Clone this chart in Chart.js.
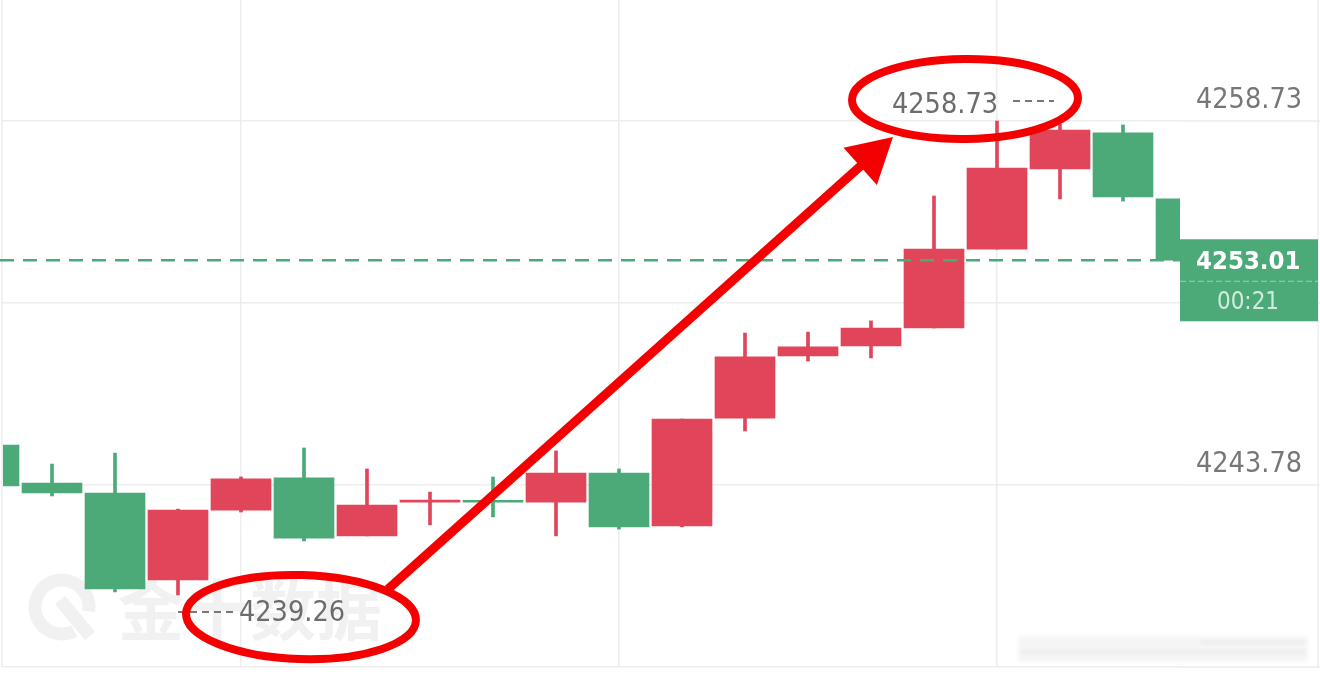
<!DOCTYPE html>
<html>
<head>
<meta charset="utf-8">
<script src="https://cdn.jsdelivr.net/npm/chart.js@4.4.1/dist/chart.umd.min.js"></script>
<style>
  html, body { margin: 0; padding: 0; background: #fff; overflow: hidden; }
  #wrap { position: relative; width: 1320px; height: 681px; }
</style>
</head>
<body>
<div id="wrap"><canvas id="kline"></canvas></div>
<script>
// candle slots (index 0 is cut off at the left edge, 19 is the live candle)
const slots  = [0, 1, 2, 3, 4, 5, 6, 7, 8, 9, 10, 11, 12, 13, 14, 15, 16, 17, 18, 19];
const opens  = [4245.42, 4243.86, 4243.45, 4239.88, 4242.75, 4244.07, 4241.69, 4243.08, 4243.15, 4243.08,
                4244.27, 4242.10, 4246.53, 4249.08, 4249.49, 4250.23, 4253.47, 4256.76, 4258.24, 4255.53];
const highs  = [4245.60, 4244.64, 4245.09, 4242.79, 4244.11, 4245.30, 4244.44, 4243.49, 4244.11, 4245.18,
                4244.44, 4246.49, 4250.02, 4250.06, 4250.52, 4255.65, 4258.73, 4258.60, 4258.57, 4255.60];
const lows   = [4243.60, 4243.33, 4239.39, 4239.26, 4242.67, 4241.48, 4241.69, 4242.14, 4242.47, 4241.69,
                4241.97, 4242.06, 4246.00, 4248.87, 4249.00, 4250.23, 4253.47, 4255.53, 4255.44, 4252.90];
const closes = [4243.74, 4243.45, 4239.51, 4242.75, 4244.03, 4241.60, 4242.96, 4243.16, 4243.08, 4244.27,
                4242.06, 4246.49, 4249.04, 4249.45, 4250.23, 4253.47, 4256.80, 4258.36, 4255.61, 4253.01];

const gridValues  = [4236.305, 4243.78, 4251.255, 4258.73];
const shownLabels = [4243.78, 4258.73];
const lastPrice   = 4253.01;
const countdown   = '00:21';

const RED = '#e0455a';
const GREEN = '#4caa78';
const GRID = '#ededed';
const NUM_FONT = "'DejaVu Sans Condensed', 'DejaVu Sans', sans-serif";

const colors = slots.map((s, i) => closes[i] >= opens[i] ? RED : GREEN);

function line(ctx, x1, y1, x2, y2) {
    ctx.beginPath();
    ctx.moveTo(x1, y1);
    ctx.lineTo(x2, y2);
    ctx.stroke();
}

const overlay = {
    id: 'overlay',
    beforeDatasetsDraw(chart) {
        const { ctx, chartArea, scales } = chart;
        ctx.save();

        // grid lines carry on under the price labels
        ctx.strokeStyle = GRID;
        ctx.lineWidth = 1.5;
        scales.y.ticks.forEach(t => {
            const y = scales.y.getPixelForValue(t.value);
            line(ctx, chartArea.right, y, chart.width, y);
        });
        line(ctx, 2, 0, 2, chartArea.bottom);
        line(ctx, chart.width - 2, 0, chart.width - 2, chartArea.bottom);

        // watermark
        ctx.strokeStyle = '#f1f1f1';
        ctx.lineWidth = 13;
        ctx.beginPath();
        ctx.arc(62, 607, 27, 0.35 * Math.PI, 2.05 * Math.PI);
        ctx.stroke();
        line(ctx, 60, 600, 90, 636);
        ctx.fillStyle = '#f1f1f1';
        ctx.font = "bold 66px 'Noto Sans CJK SC'";
        ctx.textBaseline = 'middle';
        ctx.fillText('金十数据', 118, 610);

        // blurred scroll handle, bottom right
        ctx.filter = 'blur(2px)';
        ctx.fillStyle = 'rgba(0,0,0,0.04)';
        ctx.fillRect(1018, 636, 290, 26);
        ctx.strokeStyle = 'rgba(0,0,0,0.06)';
        ctx.lineWidth = 3;
        line(ctx, 1020, 652, 1306, 652);
        line(ctx, 1200, 642, 1306, 642);
        ctx.filter = 'none';
        ctx.restore();
    },
    afterDatasetsDraw(chart) {
        const { ctx, chartArea, scales } = chart;
        const x = scales.x, y = scales.y;
        ctx.save();

        // live price line
        const py = y.getPixelForValue(lastPrice);
        ctx.strokeStyle = GREEN;
        ctx.lineWidth = 2.5;
        ctx.setLineDash([14, 9]);
        line(ctx, 0, py, chartArea.right, py);
        ctx.setLineDash([]);

        // live price box
        ctx.fillStyle = GREEN;
        ctx.fillRect(chartArea.right, py - 21, chart.width - 2 - chartArea.right, 82);
        ctx.strokeStyle = 'rgba(255,255,255,0.45)';
        ctx.lineWidth = 1;
        ctx.setLineDash([6, 3]);
        line(ctx, chartArea.right, py + 21, chart.width - 2, py + 21);
        ctx.setLineDash([]);
        ctx.textBaseline = 'middle';
        ctx.fillStyle = '#ffffff';
        ctx.textAlign = 'left';
        ctx.font = 'bold 25.5px ' + NUM_FONT;
        ctx.fillText(lastPrice.toFixed(2), chartArea.right + 16, py + 2);
        ctx.fillStyle = 'rgba(255,255,255,0.75)';
        ctx.textAlign = 'center';
        ctx.font = '24px ' + NUM_FONT;
        ctx.fillText(countdown, chartArea.right + 68, py + 42);

        // highest / lowest markers
        const hiVal = Math.max(...highs), loVal = Math.min(...lows);
        const hx = x.getPixelForValue(slots[highs.indexOf(hiVal)]);
        const hy = y.getPixelForValue(hiVal);
        const lx = x.getPixelForValue(slots[lows.indexOf(loVal)]);
        const ly = y.getPixelForValue(loVal);
        ctx.fillStyle = '#6c6c6c';
        ctx.strokeStyle = '#777';
        ctx.lineWidth = 2;
        ctx.font = '28.5px ' + NUM_FONT;
        ctx.textAlign = 'right';
        ctx.fillText(hiVal.toFixed(2), hx + 1, hy - 15);
        ctx.setLineDash([7, 5]);
        line(ctx, hx + 16, hy - 20, hx + 57, hy - 20);
        line(ctx, lx, ly + 17, lx + 55, ly + 17);
        ctx.setLineDash([]);
        ctx.textAlign = 'left';
        ctx.fillText(loVal.toFixed(2), lx + 61, ly + 19);

        // red hand-drawn marks
        ctx.strokeStyle = '#f50000';
        ctx.fillStyle = '#f50000';
        ctx.lineWidth = 8;
        ctx.beginPath();
        ctx.ellipse(hx - 32, hy - 22, 113, 40, -0.01, 0, 2 * Math.PI);
        ctx.stroke();
        ctx.beginPath();
        ctx.ellipse(lx + 123, ly + 22, 115, 42, 0.03, 0, 2 * Math.PI);
        ctx.stroke();

        const sx = lx + 210, sy = ly - 6, tx = hx - 104, ty = hy + 16;
        const len = Math.hypot(tx - sx, ty - sy);
        const ux = (tx - sx) / len, uy = (ty - sy) / len;
        const bx = tx - ux * 44, by = ty - uy * 44;
        ctx.lineWidth = 9;
        line(ctx, sx, sy, bx + ux * 4, by + uy * 4);
        ctx.beginPath();
        ctx.moveTo(tx, ty);
        ctx.lineTo(bx - uy * 25, by + ux * 25);
        ctx.lineTo(bx + uy * 25, by - ux * 25);
        ctx.closePath();
        ctx.fill();

        ctx.restore();
    }
};

new Chart(document.getElementById('kline'), {
    type: 'bar',
    data: {
        datasets: [
            {
                label: 'wick',
                data: slots.map((s, i) => ({ x: s, y: [lows[i], highs[i]] })),
                backgroundColor: colors,
                barThickness: 3,
                grouped: false,
                order: 2
            },
            {
                label: 'body',
                data: slots.map((s, i) => ({ x: s, y: [opens[i], closes[i]] })),
                backgroundColor: colors,
                barThickness: 60,
                grouped: false,
                order: 1
            }
        ]
    },
    options: {
        responsive: true,
        maintainAspectRatio: false,
        animation: false,
        layout: { padding: { left: 3, top: 0, right: 0, bottom: 0 } },
        plugins: { legend: { display: false }, tooltip: { enabled: false } },
        scales: {
            x: {
                type: 'linear',
                min: 14 / 63,
                max: 1191 / 63,
                offset: false,
                afterBuildTicks: scale => { scale.ticks = [4, 10, 16].map(v => ({ value: v })); },
                afterFit: scale => {
                    scale.height = 14;
                    scale.paddingLeft = 0;
                    scale.paddingRight = 0;
                },
                grid: { color: GRID, lineWidth: 1.5, drawTicks: false, offset: false },
                border: { display: false },
                ticks: { display: false }
            },
            y: {
                position: 'right',
                min: 4236.305,
                max: 4263.70,
                beginAtZero: false,
                afterBuildTicks: scale => { scale.ticks = gridValues.map(v => ({ value: v })); },
                afterFit: scale => {
                    scale.width = 140;
                    scale.paddingTop = 0;
                    scale.paddingBottom = 0;
                },
                grid: { color: GRID, lineWidth: 1.5, drawTicks: false },
                border: { display: false },
                ticks: {
                    crossAlign: 'near',
                    padding: 16,
                    labelOffset: -20,
                    color: '#777777',
                    font: { family: NUM_FONT, size: 28.5 },
                    callback: v => shownLabels.includes(v) ? v.toFixed(2) : ''
                }
            }
        }
    },
    plugins: [overlay]
});
</script>
</body>
</html>
